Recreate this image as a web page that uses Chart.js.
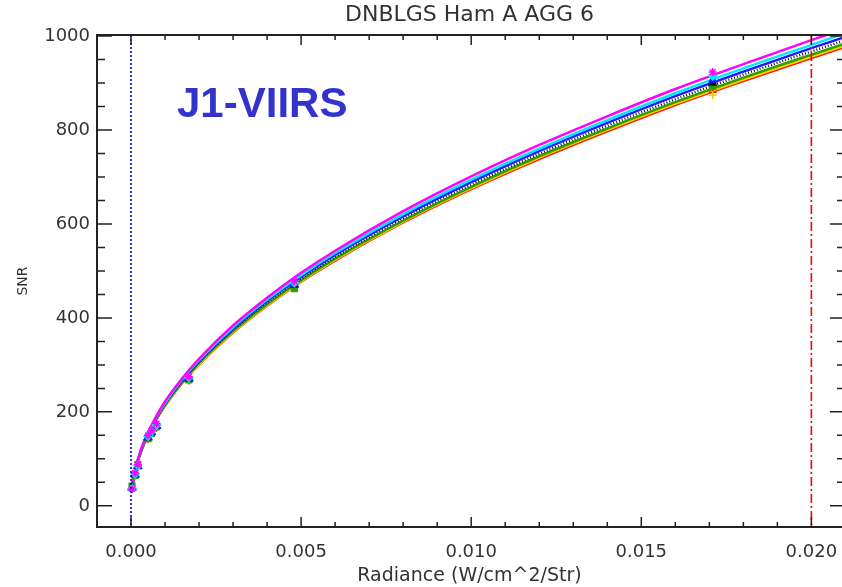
<!DOCTYPE html>
<html>
<head>
<meta charset="utf-8">
<title>DNBLGS Ham A AGG 6</title>
<script src="https://cdn.jsdelivr.net/npm/chart.js@4.4.0/dist/chart.umd.min.js"></script>
<style>
    html, body { margin: 0; padding: 0; background: #fff; }
</style>
</head>
<body>
<canvas id="snrChart" width="842" height="587"></canvas>
<script>
// Axis ticks
const xTicks = [0, 0.005, 0.010, 0.015, 0.020];
const yTicks = [0, 200, 400, 600, 800, 1000];

// Fitted curves (radiance vs SNR)
const fitX = [0.00003, 0.0001, 0.0002, 0.0004, 0.0007, 0.001, 0.0015, 0.002, 0.003, 0.004,
              0.005, 0.006, 0.008, 0.010, 0.012, 0.014, 0.016, 0.018, 0.020, 0.021];
const fitMagenta = [38, 70, 99, 140, 185, 222, 271, 313, 384, 443, 496, 543, 627, 701, 768, 829, 887, 940, 991, 1016];
const fitCyan    = [38, 69, 98, 139, 184, 219, 269, 310, 380, 439, 491, 538, 621, 694, 760, 821, 878, 931, 981, 1006];
const fitBlue    = [38, 69, 97, 138, 182, 218, 267, 308, 377, 436, 487, 534, 616, 689, 755, 815, 872, 924, 974, 998];
const fitBlack   = [37, 68, 97, 137, 181, 216, 265, 306, 375, 433, 484, 530, 612, 684, 749, 809, 865, 918, 967, 991];
const fitGreen   = [37, 68, 96, 136, 180, 215, 263, 304, 372, 429, 480, 526, 607, 679, 744, 803, 859, 911, 960, 984];
const fitYellow  = [37, 67, 96, 136, 179, 214, 262, 302, 370, 427, 478, 524, 605, 676, 741, 800, 856, 907, 956, 980];
const fitRed     = [37, 67, 95, 135, 178, 213, 261, 301, 369, 426, 477, 522, 603, 674, 738, 797, 853, 904, 953, 977];

// Measured points
const measX = [0.00003, 0.00012, 0.0002, 0.0005, 0.0006, 0.00075, 0.0017, 0.0048, 0.0171];
const measMagenta = [36, 70, 88, 150, 160, 175, 275, 478, 923];
const measCyan    = [37, 68, 86, 148, 158, 172, 273, 475, 915];
const measBlue    = [38, 67, 85, 146, 157, 170, 272, 472, 906];
const measBlack   = [40, 66, 84, 145, 156, 170, 270, 470, 900];
const measGreen   = [42, 65, 88, 143, 154, 168, 268, 462, 893];
const measYellow  = [40, 64, 83, 144, 160, 172, 269, 468, 874];
const measRed     = [39, 63, 82, 142, 153, 166, 267, 466, 880];

// Series, first one is drawn on top
const series = [
    { color: '#ff00ff', fit: fitMagenta, meas: measMagenta, marker: 'star', dash: [] },
    { color: '#00e8ff', fit: fitCyan, meas: measCyan, marker: 'rectRot', dash: [] },
    { color: '#1a1aff', fit: fitBlue, meas: measBlue, marker: 'triangle', dash: [] },
    { color: '#111111', fit: fitBlack, meas: measBlack, marker: 'triangle', dash: [1, 2] },
    { color: '#2fa000', fit: fitGreen, meas: measGreen, marker: 'rect', dash: [] },
    { color: '#ffd000', fit: fitYellow, meas: measYellow, marker: 'cross', dash: [] },
    { color: '#ff1a00', fit: fitRed, meas: measRed, marker: 'cross', dash: [] }
];

function toPoints(xs, ys) {
    return xs.map((x, i) => ({ x: x, y: ys[i] }));
}

const markerSets = series.map(s => ({
    type: 'scatter',
    data: toPoints(measX, s.meas),
    showLine: false,
    pointStyle: s.marker,
    pointRadius: 4,
    pointBorderWidth: 1.5,
    borderColor: s.color,
    backgroundColor: s.color
}));

const curveSets = series.map(s => ({
    type: 'line',
    data: toPoints(fitX, s.fit),
    borderColor: s.color,
    borderWidth: 2.5,
    borderDash: s.dash,
    pointRadius: 0,
    fill: false,
    cubicInterpolationMode: 'monotone'
}));

// IDL style box: inward ticks on all sides, reference lines, label
const idlFrame = {
    id: 'idlFrame',
    afterDatasetsDraw(chart) {
        const { ctx, chartArea, scales } = chart;
        const x0 = scales.x.getPixelForValue(0);
        const x20 = scales.x.getPixelForValue(0.020);
        ctx.save();
        ctx.lineWidth = 1.6;
        ctx.strokeStyle = '#0000ff';
        ctx.setLineDash([2, 2]);
        ctx.beginPath();
        ctx.moveTo(x0, chartArea.top);
        ctx.lineTo(x0, chartArea.bottom);
        ctx.stroke();
        ctx.strokeStyle = '#ff0000';
        ctx.setLineDash([9, 3, 2, 3]);
        ctx.beginPath();
        ctx.moveTo(x20, chartArea.top);
        ctx.lineTo(x20, chartArea.bottom);
        ctx.stroke();
        ctx.restore();
    },
    afterDraw(chart) {
        const { ctx, chartArea, scales } = chart;
        const { left, top, bottom } = chartArea;
        const right = chartArea.right + 3;
        ctx.save();
        ctx.strokeStyle = '#222';
        ctx.lineWidth = 2;
        ctx.beginPath();
        ctx.moveTo(right, top);
        ctx.lineTo(left, top);
        ctx.lineTo(left, bottom);
        ctx.lineTo(right, bottom);
        ctx.stroke();

        ctx.lineWidth = 1.5;
        ctx.beginPath();
        // x ticks, minor every 0.001
        for (let i = -1; i <= 21; i++) {
            const px = scales.x.getPixelForValue(i / 1000);
            if (px < left || px > right) continue;
            const len = i % 5 === 0 ? 10 : 5;
            ctx.moveTo(px, bottom);
            ctx.lineTo(px, bottom - len);
            ctx.moveTo(px, top);
            ctx.lineTo(px, top + len);
        }
        // y ticks, minor every 50
        for (let v = 0; v <= 1000; v += 50) {
            const py = scales.y.getPixelForValue(v);
            const len = v % 200 === 0 ? 15 : 8;
            ctx.moveTo(left, py);
            ctx.lineTo(left + len, py);
            ctx.moveTo(right, py);
            ctx.lineTo(right - len, py);
        }
        ctx.stroke();

        ctx.fillStyle = '#3333cc';
        ctx.font = 'bold 42px "Liberation Sans", Arial, sans-serif';
        ctx.textBaseline = 'alphabetic';
        ctx.fillText('J1-VIIRS', 177, 117);
        ctx.restore();
    }
};

const tickFont = { family: '"DejaVu Sans", sans-serif', size: 18 };

new Chart(document.getElementById('snrChart'), {
    data: { datasets: markerSets.concat(curveSets) },
    plugins: [idlFrame],
    options: {
        responsive: false,
        animation: false,
        layout: { autoPadding: false, padding: { top: 0, right: 0, bottom: 0, left: 0 } },
        plugins: {
            legend: { display: false },
            tooltip: { enabled: false },
            title: {
                display: true,
                text: 'DNBLGS Ham A AGG 6',
                fullSize: false,
                color: '#333',
                font: { family: '"DejaVu Sans", sans-serif', size: 22, weight: 'normal', lineHeight: 1.2 },
                padding: { top: 2, bottom: 6.6 }
            }
        },
        scales: {
            x: {
                type: 'linear',
                min: -0.001,
                max: 0.0209,
                afterFit: s => {
                    s.height = 60;
                    s.paddingLeft = 0;
                    s.paddingRight = 0;
                },
                afterBuildTicks: s => { s.ticks = xTicks.map(v => ({ value: v })); },
                grid: { display: false, drawTicks: false },
                border: { display: false },
                ticks: {
                    color: '#333',
                    font: tickFont,
                    padding: 15,
                    maxRotation: 0,
                    callback: v => v.toFixed(3)
                },
                title: {
                    display: true,
                    text: 'Radiance (W/cm^2/Str)',
                    color: '#333',
                    font: { family: '"DejaVu Sans", sans-serif', size: 19 },
                    padding: { top: 0, bottom: 0 }
                }
            },
            y: {
                type: 'linear',
                min: -45,
                max: 1002,
                afterFit: s => {
                    s.width = 97;
                    s.paddingTop = 0;
                    s.paddingBottom = 0;
                },
                afterBuildTicks: s => { s.ticks = yTicks.map(v => ({ value: v })); },
                grid: { display: false, drawTicks: false },
                border: { display: false },
                ticks: {
                    color: '#333',
                    font: tickFont,
                    padding: 7,
                    callback: v => String(v)
                },
                title: {
                    display: true,
                    text: 'SNR',
                    color: '#333',
                    font: { family: '"DejaVu Sans", sans-serif', size: 14 },
                    padding: { top: 15, bottom: 0 }
                }
            }
        }
    }
});
</script>
</body>
</html>
